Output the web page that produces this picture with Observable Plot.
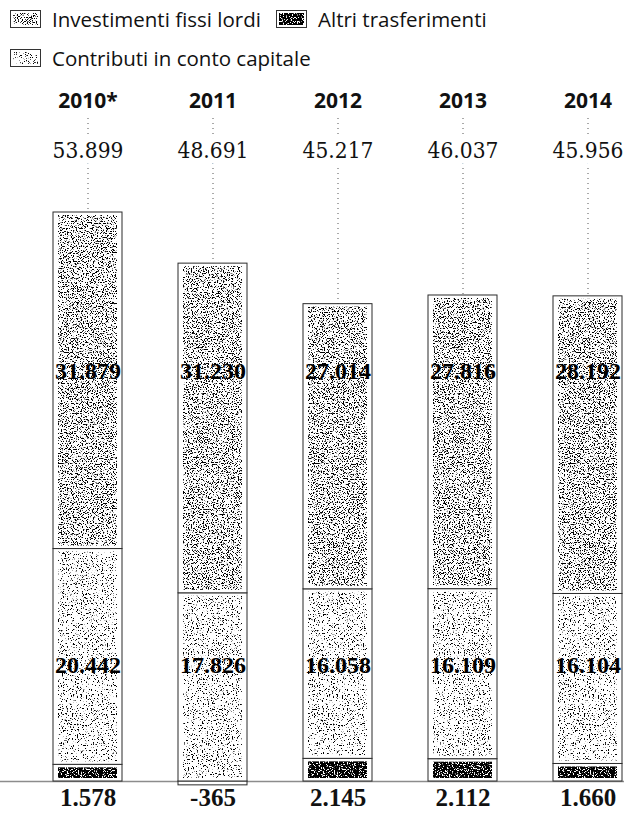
<!DOCTYPE html>
<html>
<head>
<meta charset="utf-8">
<script src="https://cdn.jsdelivr.net/npm/d3@7"></script>
<script src="https://cdn.jsdelivr.net/npm/@observablehq/plot@0.6"></script>
<style>
  body { margin: 0; background: #fff; }
  #legend { position: relative; width: 624px; height: 80px; font-family: "Open Sans", sans-serif; font-size: 20.5px; color: #111; }
  .item { position: absolute; height: 28px; display: flex; align-items: center; white-space: nowrap; }
  .item svg { margin-right: 11px; display: block; }
  #chart svg { display: block; }
</style>
</head>
<body>
<!-- stipple textures used by bars and legend swatches -->
<svg width="0" height="0" style="position:absolute">
  <defs>
    <filter id="grain-inv" x="0" y="0" width="1" height="1" color-interpolation-filters="sRGB">
      <feTurbulence type="fractalNoise" baseFrequency="0.8" numOctaves="2" seed="7" stitchTiles="stitch"/>
      <feColorMatrix type="matrix" values="0 0 0 0 0  0 0 0 0 0  0 0 0 0 0  -14 0 0 0 6.35"/>
    </filter>
    <filter id="grain-con" x="0" y="0" width="1" height="1" color-interpolation-filters="sRGB">
      <feTurbulence type="fractalNoise" baseFrequency="0.8" numOctaves="2" seed="19" stitchTiles="stitch"/>
      <feColorMatrix type="matrix" values="0 0 0 0 0  0 0 0 0 0  0 0 0 0 0  -14 0 0 0 5.6"/>
    </filter>
    <filter id="grain-alt" x="0" y="0" width="1" height="1" color-interpolation-filters="sRGB">
      <feTurbulence type="fractalNoise" baseFrequency="0.8" numOctaves="2" seed="3" stitchTiles="stitch"/>
      <feColorMatrix type="matrix" values="0 0 0 0 0  0 0 0 0 0  0 0 0 0 0  -14 0 0 0 8.8"/>
    </filter>
    <pattern id="tex-inv" patternUnits="userSpaceOnUse" width="256" height="256">
      <rect width="256" height="256" fill="#fff"/>
      <rect width="256" height="256" filter="url(#grain-inv)"/>
    </pattern>
    <pattern id="tex-con" patternUnits="userSpaceOnUse" width="256" height="256">
      <rect width="256" height="256" fill="#fff"/>
      <rect width="256" height="256" filter="url(#grain-con)"/>
    </pattern>
    <pattern id="tex-alt" patternUnits="userSpaceOnUse" width="256" height="256">
      <rect width="256" height="256" fill="#fff"/>
      <rect width="256" height="256" filter="url(#grain-alt)"/>
    </pattern>
  </defs>
</svg>
<div id="legend"></div>
<div id="chart"></div>
<script>
// Spesa in conto capitale, valori in milioni
const years = ["2010*", "2011", "2012", "2013", "2014"];
const investimenti = [31879, 31230, 27014, 27816, 28192];
const contributi = [20442, 17826, 16058, 16109, 16104];
const altri = [1578, -365, 2145, 2112, 1660];
const totali = [53899, 48691, 45217, 46037, 45956];

const serieInv = "Investimenti fissi lordi";
const serieCon = "Contributi in conto capitale";
const serieAlt = "Altri trasferimenti";
const textures = {
  [serieInv]: "url(#tex-inv)",
  [serieCon]: "url(#tex-con)",
  [serieAlt]: "url(#tex-alt)"
};

// tidy rows for the stacked bars
const rows = [];
years.forEach((year, i) => {
  rows.push({year, serie: serieAlt, value: altri[i]});
  rows.push({year, serie: serieCon, value: contributi[i]});
  rows.push({year, serie: serieInv, value: investimenti[i]});
});
const perYear = years.map((year, i) => ({
  year, inv: investimenti[i], con: contributi[i], alt: altri[i], tot: totali[i]
}));

const it = d3.formatLocale({decimal: ",", thousands: ".", grouping: [3], currency: ["", " €"], minus: "-"});
const fmt = it.format(",d");

// legend
const legend = document.getElementById("legend");
[
  {name: serieInv, left: 10, top: 5},
  {name: serieAlt, left: 276, top: 5},
  {name: serieCon, left: 10, top: 44}
].forEach(({name, left, top}) => {
  const el = document.createElement("div");
  el.className = "item";
  el.style.left = left + "px";
  el.style.top = top + "px";
  el.innerHTML =
    `<svg width="31" height="18"><rect x="0.5" y="0.5" width="30" height="17" fill="#fff" stroke="#333"/>` +
    `<rect x="3" y="3" width="25" height="12" fill="${textures[name]}"/></svg><span>${name}</span>`;
  legend.appendChild(el);
});

const stack = {x: "year", y: "value", z: "serie", order: [serieAlt, serieCon, serieInv]};
const serif = "Liberation Serif";

const chart = Plot.plot({
  width: 624,
  height: 736,
  marginTop: 38,
  marginBottom: 35,
  marginLeft: 0,
  marginRight: 0,
  x: {domain: years, paddingInner: 0.448, paddingOuter: 0.22, align: 0.964, axis: null},
  y: {domain: [0, d3.max(totali)], range: [701, 132], axis: null},
  color: {type: "identity"},
  marks: [
    Plot.ruleX(years, {x: d => d, stroke: "#555", strokeDasharray: "1 4", strokeWidth: 1}),
    Plot.ruleY([0], {stroke: "#8c8c8c", strokeWidth: 1.5}),
    Plot.barY(rows, Plot.stackY({...stack, fill: "#fff", stroke: "#2b2b2b", strokeWidth: 1})),
    Plot.barY(rows, Plot.stackY({...stack, fill: d => textures[d.serie], insetLeft: 5, insetRight: 5, insetTop: 3, insetBottom: 3})),
    // year headers
    Plot.text(perYear, {x: "year", text: "year", frameAnchor: "top", dy: -25,
      fontFamily: "Open Sans", fontWeight: 700, fontSize: 21, fill: "#111"}),
    // totals
    Plot.text(perYear, {x: "year", text: d => fmt(d.tot), frameAnchor: "top", dy: 24,
      fontFamily: "DejaVu Serif Condensed", fontSize: 22.5, fill: "#111", stroke: "#fff", strokeWidth: 12, paintOrder: "stroke"}),
    // segment values
    Plot.text(perYear, {x: "year", text: d => fmt(d.inv), frameAnchor: "bottom", dy: -403,
      fontFamily: serif, fontWeight: 700, fontSize: 24, fill: "#000"}),
    Plot.text(perYear, {x: "year", text: d => fmt(d.con), frameAnchor: "bottom", dy: -109,
      fontFamily: serif, fontWeight: 700, fontSize: 24, fill: "#000"}),
    Plot.text(perYear, {x: "year", text: d => fmt(d.alt), frameAnchor: "bottom", dy: 24,
      fontFamily: serif, fontWeight: 700, fontSize: 25, fill: "#111"})
  ]
});
document.getElementById("chart").appendChild(chart);
</script>
</body>
</html>
